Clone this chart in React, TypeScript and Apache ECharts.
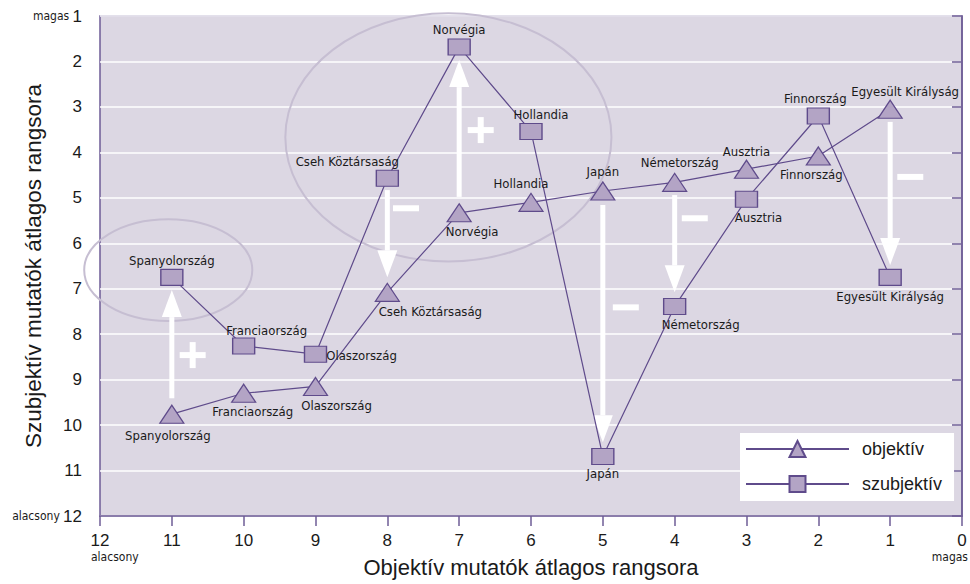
import React, { useEffect, useRef } from 'react';
import * as echarts from 'echarts';

// ---- data ----
const countries = ['Spanyolország', 'Franciaország', 'Olaszország', 'Cseh Köztársaság', 'Norvégia', 'Hollandia', 'Japán', 'Németország', 'Ausztria', 'Finnország', 'Egyesült Királyság'];
const objRank = [11, 10, 9, 8, 7, 6, 5, 4, 3, 2, 1];
const objektiv = [9.76, 9.30, 9.15, 7.08, 5.33, 5.10, 4.85, 4.66, 4.37, 4.08, 3.05];
const szubjektiv = [6.75, 8.26, 8.44, 4.57, 1.68, 3.54, 10.69, 7.39, 5.03, 3.20, 6.75];

const xTicks = [12, 11, 10, 9, 8, 7, 6, 5, 4, 3, 2, 1, 0];
const yTicks = [1, 2, 3, 4, 5, 6, 7, 8, 9, 10, 11, 12];

// annotation arrows: x, from, to (tip)
const arrowX = [11, 7, 8, 5, 4, 1];
const arrowFrom = [9.41, 4.98, 4.83, 5.16, 4.94, 3.33];
const arrowTo = [7.03, 1.97, 6.75, 10.38, 7.08, 6.48];

// plus / minus signs
const signX = [10.71, 6.70, 7.74, 4.68, 3.72, 0.72];
const signY = [8.46, 3.51, 5.23, 7.41, 5.45, 4.54];
const signKind = ['+', '+', '−', '−', '−', '−'];

// ellipses: cx, cy, rx, ry (data units)
const ellipses = [
  [11.05, 6.59, 1.17, 1.12],
  [7.15, 3.67, 2.27, 2.73],
];

// ---- label placement (style) ----
const objPos = ['bottom', 'bottom', 'bottom', 'bottom', 'bottom', 'top', 'top', 'top', 'top', 'bottom', 'top'];
const objOff = [[-4, 0], [9, -3], [21, -2], [43, -2], [13, -2], [-10, 2], [0, 2], [5, 1], [0, 3], [-7, -3], [15, 3]];
const subPos = ['top', 'top', 'right', 'top', 'top', 'top', 'bottom', 'bottom', 'bottom', 'top', 'bottom'];
const subOff = [[0, 3], [23, 5], [-6, 1], [-40, 3], [0, 3], [10, 3], [0, -3], [26, -2], [12, -2], [-3, 3], [0, -1]];

const LINE = '#5f4b8b';
const FILL = '#b3a4c5';
const AXIS = '#6e5c96';
const NARROW = "'Liberation Sans Narrow', 'DejaVu Sans Condensed', 'Roboto Condensed', sans-serif";
const SANS = "'Liberation Sans', Arial, sans-serif";

export default function App() {
  const ref = useRef<HTMLDivElement>(null);
  useEffect(() => {
    if (!ref.current) return;
    const chart = echarts.init(ref.current, undefined, { renderer: 'svg' });
    const labelStyle = { color: '#1a1a1a', fontSize: 13, fontFamily: NARROW };

    const option: any = {
      animation: false,
      grid: {
        left: 100, right: 8, top: 16, bottom: 68, show: true,
        containLabel: false, outerBoundsMode: 'none',
        backgroundColor: '#dcd7e3', borderColor: AXIS, borderWidth: 1.5,
      },
      legend: {
        orient: 'vertical', left: 740, top: 433,
        backgroundColor: '#ffffff', padding: [7, 12, 8, 5],
        itemWidth: 103, itemHeight: 20, itemGap: 17,
        textStyle: { fontSize: 18, fontFamily: SANS, color: '#1a1a1a', padding: [0, 0, 0, 8] },
        data: ['objektív', 'szubjektív'],
      },
      xAxis: {
        type: 'value', min: 0, max: 12, interval: 1, inverse: true,
        name: 'Objektív mutatók átlagos rangsora', nameLocation: 'middle', nameGap: 40,
        nameMoveOverlap: false,
        nameTextStyle: { fontSize: 22, fontFamily: SANS, color: '#1a1a1a' },
        axisLine: { show: true, lineStyle: { color: AXIS, width: 1.5 } },
        axisTick: { show: true, length: 10, lineStyle: { color: AXIS, width: 1.5 } },
        axisLabel: {
          margin: 16, fontSize: 17, fontFamily: SANS, color: '#1a1a1a',
          formatter: (v: number) => (xTicks.includes(v) ? String(v) : ''),
        },
        splitLine: { show: false },
      },
      yAxis: {
        type: 'value', min: 1, max: 12, interval: 1, inverse: true,
        name: 'Szubjektív mutatók átlagos rangsora', nameLocation: 'middle', nameGap: 55,
        nameMoveOverlap: false,
        nameTextStyle: { fontSize: 22.5, fontFamily: SANS, color: '#1a1a1a' },
        axisLine: { show: true, lineStyle: { color: AXIS, width: 1.5 } },
        axisTick: { show: true, length: 10, lineStyle: { color: AXIS, width: 1.5 } },
        axisLabel: {
          margin: 18, color: '#1a1a1a',
          formatter: (v: number) => {
            if (!yTicks.includes(v)) return '';
            if (v === 1) return '{s|magas} {n|1}';
            if (v === 12) return '{s|alacsony} {n|12}';
            return '{n|' + v + '}';
          },
          rich: {
            n: { fontSize: 17, fontFamily: SANS, color: '#1a1a1a' },
            s: { fontSize: 12, fontFamily: NARROW, color: '#1a1a1a' },
          },
        },
        splitLine: { show: true, lineStyle: { color: '#ffffff', width: 1.5 } },
      },
      series: [
        {
          type: 'custom', name: 'arrows', z: 3, silent: true,
          encode: { x: 0, y: 1 },
          data: arrowX.map((x, i) => [x, arrowFrom[i], arrowTo[i]]),
          renderItem: (params: any, api: any) => {
            const x = api.value(0);
            const p0 = api.coord([x, api.value(1)]);
            const p1 = api.coord([x, api.value(2)]);
            const dir = p1[1] > p0[1] ? 1 : -1;
            const headLen = 27, headW = 20, shaftW = 5;
            const baseY = p1[1] - dir * headLen;
            return {
              type: 'group',
              children: [
                { type: 'rect', shape: { x: p0[0] - shaftW / 2, y: Math.min(p0[1], baseY), width: shaftW, height: Math.abs(baseY - p0[1]) }, style: { fill: '#ffffff' } },
                { type: 'polygon', shape: { points: [[p1[0], p1[1]], [p1[0] - headW / 2, baseY], [p1[0] + headW / 2, baseY]] }, style: { fill: '#ffffff' } },
              ],
            };
          },
        },
        {
          type: 'custom', name: 'signs', z: 3, silent: true,
          encode: { x: 0, y: 1 },
          data: signX.map((x, i) => [x, signY[i], signKind[i] === '+' ? 1 : 0]),
          renderItem: (params: any, api: any) => {
            const p = api.coord([api.value(0), api.value(1)]);
            const plus = api.value(2) === 1;
            const children: any[] = [
              { type: 'rect', shape: { x: p[0] - 13, y: p[1] - 3, width: 26, height: 6 }, style: { fill: '#ffffff' } },
            ];
            if (plus) children.push({ type: 'rect', shape: { x: p[0] - 3, y: p[1] - 13, width: 6, height: 26 }, style: { fill: '#ffffff' } });
            return { type: 'group', children };
          },
        },
        {
          type: 'line', name: 'objektív', z: 4,
          symbol: 'triangle', symbolSize: [24, 18],
          lineStyle: { color: LINE, width: 1.2 },
          itemStyle: { color: FILL, borderColor: LINE, borderWidth: 1.2 },
          data: objRank.map((x, i) => ({
            value: [x, objektiv[i]],
            label: { show: true, position: objPos[i], offset: objOff[i], formatter: countries[i], ...labelStyle },
          })),
        },
        {
          type: 'line', name: 'szubjektív', z: 4,
          symbol: 'rect', symbolSize: [22, 16],
          lineStyle: { color: LINE, width: 1.2 },
          itemStyle: { color: FILL, borderColor: LINE, borderWidth: 1.2 },
          data: objRank.map((x, i) => ({
            value: [x, szubjektiv[i]],
            label: { show: true, position: subPos[i], offset: subOff[i], formatter: countries[i], ...labelStyle },
          })),
        },
      ],
    };
    chart.setOption(option);

    const cv = (p: number[]) => chart.convertToPixel({ gridIndex: 0 }, p) as number[];
    const graphics: any[] = ellipses.map((e) => {
      const c = cv([e[0], e[1]]);
      const rx = Math.abs(cv([e[0] + e[2], e[1]])[0] - c[0]);
      const ry = Math.abs(cv([e[0], e[1] + e[3]])[1] - c[1]);
      return {
        type: 'ellipse', z: 1, silent: true,
        shape: { cx: c[0], cy: c[1], rx, ry },
        style: { fill: 'none', stroke: '#c6bed2', lineWidth: 2 },
      };
    });
    const pLow = cv([12, 12]);
    const pHigh = cv([0, 12]);
    graphics.push({
      type: 'text', x: pLow[0] - 9, y: pLow[1] + 41, z: 5,
      style: { text: 'alacsony', fontSize: 12, fontFamily: NARROW, fill: '#1a1a1a', align: 'left', verticalAlign: 'middle' },
    });
    graphics.push({
      type: 'text', x: pHigh[0] + 6, y: pHigh[1] + 41, z: 5,
      style: { text: 'magas', fontSize: 12, fontFamily: NARROW, fill: '#1a1a1a', align: 'right', verticalAlign: 'middle' },
    });
    chart.setOption({ graphic: graphics });

    return () => chart.dispose();
  }, []);

  return <div ref={ref} style={{ position: 'fixed', left: 0, top: 0, width: 970, height: 584, background: '#ffffff' }} />;
}
